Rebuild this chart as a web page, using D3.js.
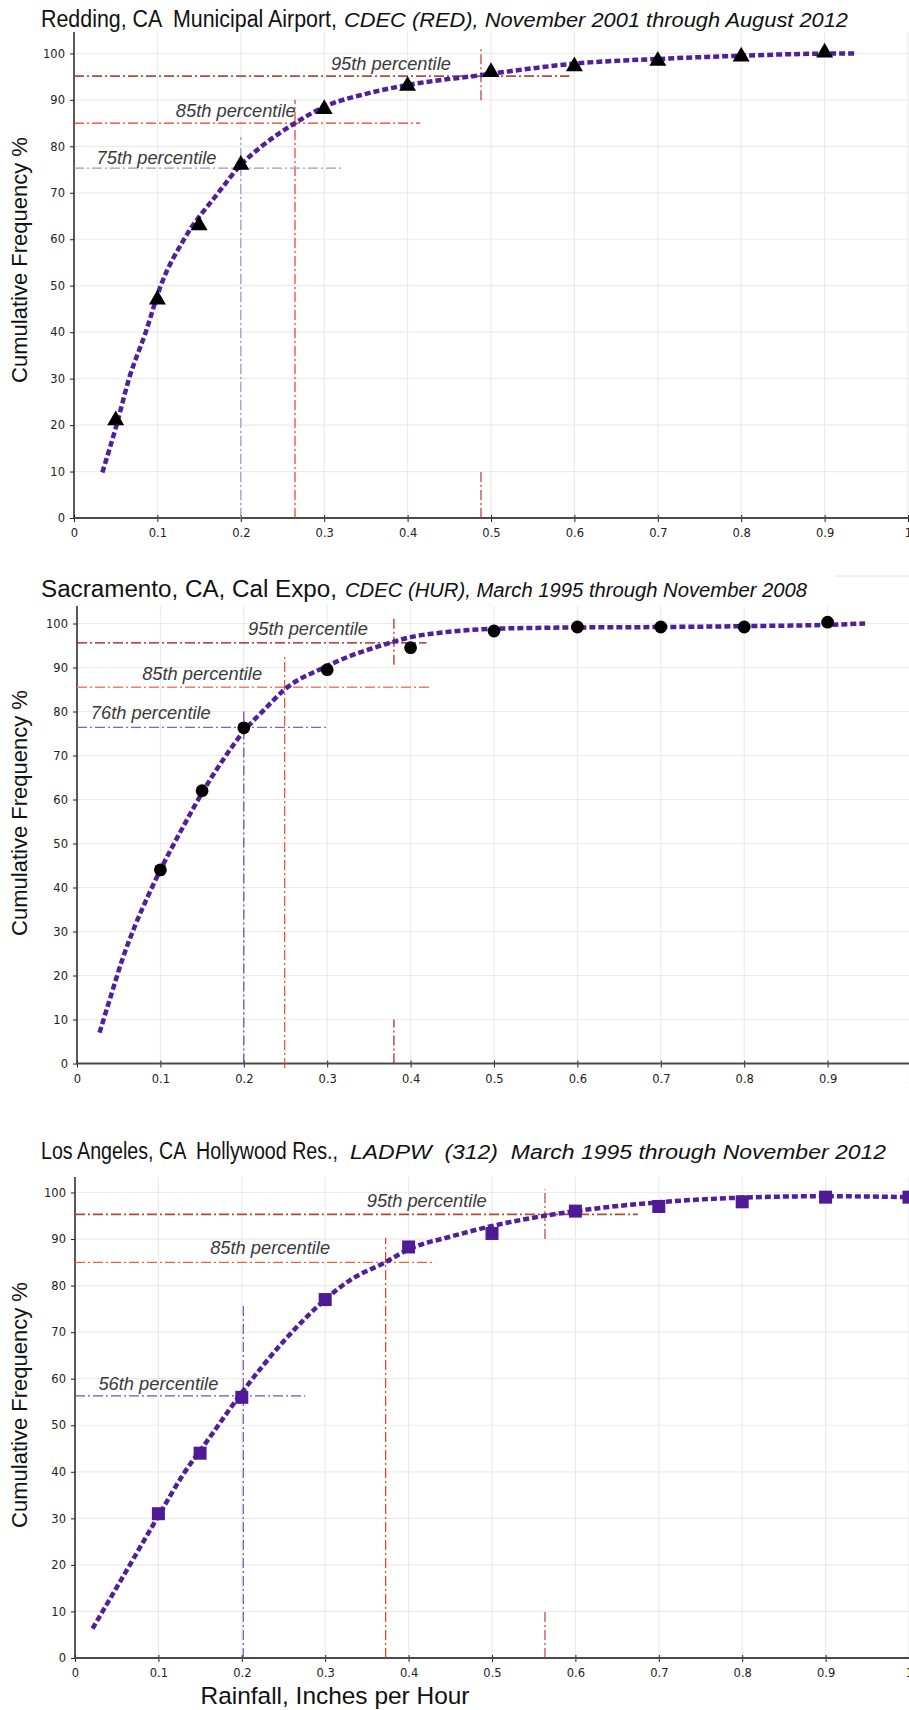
<!DOCTYPE html>
<html><head><meta charset="utf-8">
<script src="https://cdn.jsdelivr.net/npm/d3@7"></script>
<style>body{margin:0;background:#fff}svg{display:block}</style>
</head><body>
<svg id="chart" width="909" height="1710"></svg>
<script>
// ---------- shared ticks ----------
const xTickValues = [0, 0.1, 0.2, 0.3, 0.4, 0.5, 0.6, 0.7, 0.8, 0.9, 1];
const xTickLabels = ["0", "0.1", "0.2", "0.3", "0.4", "0.5", "0.6", "0.7", "0.8", "0.9", "1"];
const yTickValues = [0, 10, 20, 30, 40, 50, 60, 70, 80, 90, 100];
const yAxisTitle = "Cumulative Frequency %";
const xAxisTitle = "Rainfall, Inches per Hour";

// ---------- Redding ----------
const reddingTitle = ["Redding, CA  Municipal Airport,", "CDEC (RED), November 2001 through August 2012"];
const reddingX = [0.05, 0.1, 0.15, 0.2, 0.3, 0.4, 0.5, 0.6, 0.7, 0.8, 0.9];
const reddingY = [21, 47, 63, 76, 88, 93, 96, 97.2, 98.4, 99.3, 100.2];
const reddingCurveX = [0.034, 0.051, 0.066, 0.086, 0.104, 0.132, 0.173, 0.2, 0.225, 0.265, 0.3, 0.35, 0.4, 0.487, 0.55, 0.6, 0.7, 0.8, 0.88, 0.936];
const reddingCurveY = [9.8, 20, 30, 40, 50, 60, 70, 76, 80, 85, 88.5, 91.3, 93.2, 95.3, 96.8, 97.8, 98.8, 99.5, 99.9, 100];
const reddingPctNames = ["95th percentile", "85th percentile", "75th percentile"];
const reddingPctLevel = [95.1, 85, 75.3];
const reddingPctRain = [0.488, 0.265, 0.2];

// ---------- Sacramento ----------
const sacTitle = ["Sacramento, CA, Cal Expo,", "CDEC (HUR), March 1995 through November 2008"];
const sacX = [0.1, 0.15, 0.2, 0.3, 0.4, 0.5, 0.6, 0.7, 0.8, 0.9];
const sacY = [44, 62, 76.3, 89.5, 94.5, 98.3, 99.2, 99.2, 99.2, 100.3];
const sacCurveX = [0.027, 0.04, 0.055, 0.07, 0.085, 0.1, 0.125, 0.15, 0.175, 0.2, 0.225, 0.249, 0.296, 0.33, 0.365, 0.4, 0.44, 0.485, 0.55, 0.6, 0.7, 0.8, 0.9, 0.945];
const sacCurveY = [7, 15, 24, 31.5, 38, 44, 53, 61.5, 69, 75.5, 80.5, 85, 90, 92.8, 95, 96.9, 98, 98.7, 99, 99.1, 99.2, 99.4, 99.7, 100];
const sacPctNames = ["95th percentile", "85th percentile", "76th percentile"];
const sacPctLevel = [95.6, 85.5, 76.4];
const sacPctRain = [0.38, 0.249, 0.2];

// ---------- Los Angeles ----------
const laTitle = ["Los Angeles, CA  Hollywood Res.,", "LADPW  (312)  March 1995 through November 2012"];
const laX = [0.1, 0.15, 0.2, 0.3, 0.4, 0.5, 0.6, 0.7, 0.8, 0.9, 1.0];
const laY = [31, 44, 56, 77, 88.3, 91.2, 96, 97, 98, 99, 99];
const laCurveX = [0.021, 0.056, 0.1, 0.13, 0.16, 0.2, 0.25, 0.3, 0.33, 0.372, 0.4, 0.45, 0.5, 0.563, 0.6, 0.7, 0.8, 0.9, 1.0, 1.03];
const laCurveY = [6.3, 17, 30.5, 39.5, 47, 57, 68, 77, 81.2, 85, 87.8, 90.5, 92.8, 95, 96, 97.9, 98.9, 99.2, 99, 98.9];
const laPctNames = ["95th percentile", "85th percentile", "56th percentile"];
const laPctLevel = [95.3, 85, 56.3];
const laPctRain = [0.5635, 0.3725, 0.2018];

// ---------- layout (positions & styles only) ----------
const CURVE_COLOR = "#4f1f9c";
const panels = [
  { title: reddingTitle, mx: reddingX, my: reddingY, cx: reddingCurveX, cy: reddingCurveY,
    names: reddingPctNames, level: reddingPctLevel, rain: reddingPctRain,
    x0: 74, x1: 908, y0: 518, y100: 53.4, top: 32, titleBase: 27, titleSpan: [41, 337, 344, 848], ylabC: 260,
    marker: "triangle", mfill: "#000",
    pct: [
      { hEnd: 0.594, vTop: 101.2, vBot: 89.9, stub: true, hc: "#b44a40", vc: "#b03a30", hw: 1.8, lx: 0.38, ly: 96.4 },
      { hEnd: 0.415, vTop: 90, vBot: 0, stub: false, hc: "#e63b22", vc: "#e63b22", hw: 1.3, lx: 0.194, ly: 86.3 },
      { hEnd: 0.321, vTop: 82, vBot: 0, stub: false, hc: "#a594c4", vc: "#a594c4", hw: 1.3, lx: 0.099, ly: 76.3 }
    ] },
  { title: sacTitle, mx: sacX, my: sacY, cx: sacCurveX, cy: sacCurveY,
    names: sacPctNames, level: sacPctLevel, rain: sacPctRain,
    x0: 77, x1: 911, y0: 1063.5, y100: 623.5, top: 606, titleBase: 597, titleSpan: [41, 337, 345, 807], ylabC: 813,
    marker: "circle", mfill: "#000",
    pct: [
      { hEnd: 0.419, vTop: 101.5, vBot: 90.6, stub: true, hc: "#a00d0d", vc: "#b01c14", hw: 1.4, lx: 0.277, ly: 97.4 },
      { hEnd: 0.425, vTop: 92.7, vBot: -1, stub: false, hc: "#f47c68", vc: "#ee4a2e", hw: 1.6, lx: 0.15, ly: 87.2 },
      { hEnd: 0.301, vTop: 80.5, vBot: 0, stub: false, hc: "#8a5ec0", vc: "#6b3fb5", hw: 1.3, lx: 0.0885, ly: 78.2 }
    ] },
  { title: laTitle, mx: laX, my: laY, cx: laCurveX, cy: laCurveY,
    names: laPctNames, level: laPctLevel, rain: laPctRain,
    x0: 75, x1: 909, y0: 1658, y100: 1192.5, top: 1177, titleBase: 1159, titleSpan: [41, 338, 350, 886], ylabC: 1405,
    marker: "square", mfill: "#4e1a96",
    pct: [
      { hEnd: 0.675, vTop: 100.7, vBot: 90, stub: true, hc: "#b8473a", vc: "#b8473a", hw: 1.6, lx: 0.4217, ly: 96.8 },
      { hEnd: 0.432, vTop: 90.2, vBot: 0, stub: false, hc: "#f0603f", vc: "#e83a22", hw: 1.4, lx: 0.234, ly: 86.8 },
      { hEnd: 0.276, vTop: 76.1, vBot: 0, stub: false, hc: "#7b4fb5", vc: "#7b4fb5", hw: 1.3, lx: 0.1, ly: 57.6 }
    ] }
];

const svg = d3.select("#chart");
svg.append("rect").attr("width", 909).attr("height", 1710).attr("fill", "#fff");

function fit(sel, target) {
  const w = sel.node().getComputedTextLength();
  const fs = parseFloat(sel.attr("font-size"));
  sel.attr("font-size", fs * target / w);
  return sel;
}

// percentile label font size: fit "85th percentile" to 120px
const probe = svg.append("text").attr("font-family", "Liberation Sans, Arial, sans-serif")
  .attr("font-style", "italic").attr("font-size", 20).text("85th percentile");
const pctFont = 20 * 120 / probe.node().getComputedTextLength();
probe.remove();

const DASHDOT = "10,3,2,3";

panels.forEach((p, pi) => {
  const g = svg.append("g");
  const x = d3.scaleLinear().domain([0, 1]).range([p.x0, p.x1]);
  const y = d3.scaleLinear().domain([0, 100]).range([p.y0, p.y100]);

  // grid
  g.append("g").selectAll("line").data(yTickValues).join("line")
    .attr("x1", p.x0).attr("x2", 909).attr("y1", d => y(d)).attr("y2", d => y(d))
    .attr("stroke", "#ebebeb").attr("stroke-width", 1.2);
  g.append("g").selectAll("line").data(xTickValues.slice(1)).join("line")
    .attr("x1", d => x(d)).attr("x2", d => x(d)).attr("y1", p.top).attr("y2", p.y0)
    .attr("stroke", "#ebebeb").attr("stroke-width", 1.2);

  // title: taller, slightly condensed glyphs fitted to the reference widths
  const s = p.titleSpan;
  g.append("text").attr("x", s[0]).attr("y", p.titleBase)
    .attr("font-family", "Liberation Sans, Arial, sans-serif").attr("font-size", 23.5)
    .attr("fill", "#111").style("white-space", "pre")
    .attr("textLength", s[1] - s[0]).attr("lengthAdjust", "spacingAndGlyphs").text(p.title[0]);
  g.append("text").attr("x", s[2]).attr("y", p.titleBase)
    .attr("font-family", "Liberation Sans, Arial, sans-serif").attr("font-size", 20)
    .attr("font-style", "italic").attr("fill", "#111").style("white-space", "pre")
    .attr("textLength", s[3] - s[2]).attr("lengthAdjust", "spacingAndGlyphs").text(p.title[1]);

  // y label
  const yl = g.append("text").attr("transform", `translate(19,${p.ylabC}) rotate(-90)`)
    .attr("text-anchor", "middle").attr("dy", "0.36em")
    .attr("font-family", "Liberation Sans, Arial, sans-serif").attr("font-size", 20)
    .attr("fill", "#111").text(yAxisTitle);
  fit(yl, 246);

  // axes
  const yAxis = d3.axisLeft(y).tickValues(yTickValues).tickSize(4).tickPadding(5);
  const ya = g.append("g").attr("transform", `translate(${p.x0},0)`).call(yAxis);
  ya.select(".domain").remove();
  ya.selectAll(".tick line").attr("stroke", "#222");
  ya.selectAll(".tick text").attr("font-family", "DejaVu Sans, sans-serif").attr("font-size", 11.5).attr("fill", "#222");
  g.append("line").attr("x1", p.x0).attr("x2", p.x0).attr("y1", p.top).attr("y2", p.y0 + 1)
    .attr("stroke", "#222").attr("stroke-width", 1.5);

  const xAxis = d3.axisBottom(x).tickValues(xTickValues).tickFormat((d, i) => xTickLabels[i]).tickSize(4).tickPadding(7);
  const xa = g.append("g").attr("transform", `translate(0,${p.y0})`).call(xAxis);
  xa.select(".domain").remove();
  xa.selectAll(".tick line").attr("stroke", "#222").attr("y1", -3);
  xa.selectAll(".tick text").attr("font-family", "DejaVu Sans, sans-serif").attr("font-size", 11.5).attr("fill", "#222");
  g.append("line").attr("x1", p.x0).attr("x2", 909).attr("y1", p.y0).attr("y2", p.y0)
    .attr("stroke", "#4a4a4a").attr("stroke-width", 2.2);

  // percentile lines
  p.pct.forEach((c, i) => {
    const lev = p.level[i], rain = p.rain[i];
    g.append("line").attr("x1", x(0)).attr("x2", x(c.hEnd)).attr("y1", y(lev)).attr("y2", y(lev))
      .attr("stroke", c.hc).attr("stroke-width", c.hw).attr("stroke-dasharray", DASHDOT);
    g.append("line").attr("x1", x(rain)).attr("x2", x(rain)).attr("y1", y(c.vBot)).attr("y2", y(c.vTop))
      .attr("stroke", c.vc).attr("stroke-width", 1.2).attr("stroke-dasharray", DASHDOT);
    if (c.stub) {
      g.append("line").attr("x1", x(rain)).attr("x2", x(rain)).attr("y1", y(0)).attr("y2", y(10))
        .attr("stroke", c.vc).attr("stroke-width", 1.2).attr("stroke-dasharray", DASHDOT);
    }
    g.append("text").attr("x", x(c.lx)).attr("y", y(c.ly)).attr("text-anchor", "middle")
      .attr("font-family", "Liberation Sans, Arial, sans-serif").attr("font-style", "italic")
      .attr("font-size", pctFont).attr("fill", "#3a3a3a").text(p.names[i]);
  });

  // curve
  const curvePts = p.cx.map((v, i) => [v, p.cy[i]]);
  const line = d3.line().x(d => x(d[0])).y(d => y(d[1])).curve(d3.curveMonotoneX);
  g.append("path").attr("d", line(curvePts)).attr("fill", "none")
    .attr("stroke", CURVE_COLOR).attr("stroke-width", 4.5).attr("stroke-dasharray", "6,3");

  // markers
  const pts = p.mx.map((v, i) => [v, p.my[i]]);
  if (p.marker === "triangle") {
    const sym = d3.symbol().type(d3.symbolTriangle).size(125);
    g.append("g").selectAll("path").data(pts).join("path")
      .attr("transform", d => `translate(${x(d[0])},${y(d[1])})`).attr("d", sym).attr("fill", p.mfill);
  } else if (p.marker === "circle") {
    g.append("g").selectAll("circle").data(pts).join("circle")
      .attr("cx", d => x(d[0])).attr("cy", d => y(d[1])).attr("r", 6.4).attr("fill", p.mfill);
  } else {
    g.append("g").selectAll("rect").data(pts).join("rect")
      .attr("x", d => x(d[0]) - 6.5).attr("y", d => y(d[1]) - 6.5).attr("width", 13).attr("height", 13)
      .attr("fill", p.mfill);
  }
});

// faint artifact line near second title
svg.append("line").attr("x1", 835).attr("x2", 909).attr("y1", 576).attr("y2", 576)
  .attr("stroke", "#e2e2e2").attr("stroke-width", 1);

// x axis title
const xt = svg.append("text").attr("x", 335).attr("y", 1704).attr("text-anchor", "middle")
  .attr("font-family", "Liberation Sans, Arial, sans-serif").attr("font-size", 22)
  .attr("fill", "#111").text(xAxisTitle);
fit(xt, 269);
</script>
</body></html>
